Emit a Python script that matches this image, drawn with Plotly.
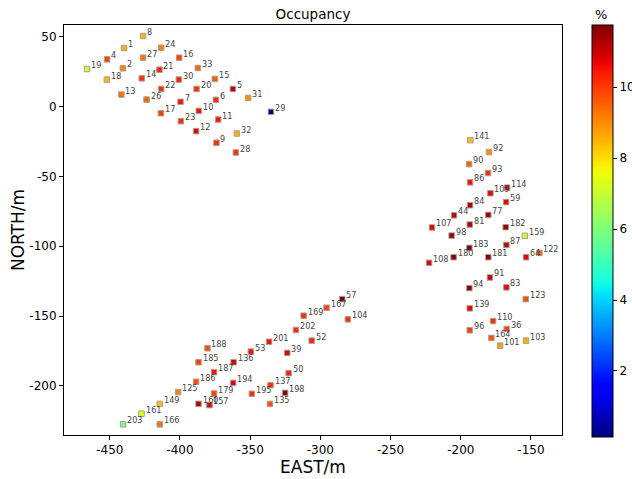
import numpy as np
import plotly.graph_objects as go

# ---- data ----
node_ids = [
    8, 1, 24, 4, 27, 16, 19, 2, 21, 33, 18, 14, 30, 15, 22, 20, 5, 13, 26, 6, 31, 7, 10, 29, 17, 11, 23, 12, 32, 9, 28,
    141, 92, 90, 93, 86, 114, 109, 84, 59, 44, 77, 81, 182, 107, 98, 159, 183, 87, 180, 181, 64, 122, 108, 91, 94, 83,
    123, 139, 110, 96, 36, 164, 101, 103,
    188, 185, 187, 186, 125, 149, 161, 203, 166, 179, 160, 157, 194, 136, 53, 201, 39, 202, 52, 169, 167, 57, 104, 50,
    137, 195, 198, 135,
]
east = [
    -426.3, -439.8, -413.4, -451.9, -426.3, -400.6, -466.2, -440.7, -414.6, -387.3, -452.1, -427.2, -400.8, -375.2,
    -413.4, -388.2, -362.3, -441.7, -423.8, -374.4, -351.4, -399.6, -386.6, -335.2, -413.6, -372.8, -399.4, -388.5,
    -359.5, -374.0, -360.2,
    -193.2, -179.9, -194.1, -180.6, -193.4, -167.0, -178.9, -193.4, -167.7, -204.8, -180.4, -193.6, -168.0, -220.5,
    -206.5, -154.4, -193.9, -167.5, -205.1, -180.4, -153.5, -144.0, -222.6, -179.2, -193.9, -167.5, -153.7, -193.6,
    -177.0, -193.6, -167.3, -178.2, -172.0, -153.5,
    -380.4, -386.8, -375.7, -388.5, -401.3, -414.4, -427.4, -440.5, -414.4, -375.7, -386.8, -379.0, -362.1, -361.8,
    -349.5, -336.5, -323.6, -317.4, -306.2, -311.9, -295.6, -284.4, -280.4, -322.6, -335.5, -348.8, -325.1, -335.9,
]
north = [
    50.5, 41.9, 42.1, 33.8, 35.0, 35.0, 26.9, 27.4, 26.4, 27.6, 19.3, 20.2, 19.3, 19.8, 12.6, 12.6, 12.6, 8.6, 5.0,
    4.8, 6.2, 3.4, -3.1, -3.8, -4.8, -9.3, -10.5, -17.6, -19.3, -25.9, -32.9,
    -24.1, -32.6, -41.2, -47.6, -54.3, -58.1, -62.1, -70.7, -68.4, -77.9, -77.6, -84.5, -86.4, -86.6, -92.4, -92.6,
    -101.2, -99.1, -107.9, -107.9, -107.9, -104.8, -111.9, -122.4, -130.0, -129.5, -137.9, -144.5, -153.6, -160.2,
    -159.3, -165.7, -171.2, -167.6,
    -173.1, -183.1, -190.2, -197.1, -204.5, -212.9, -220.0, -227.6, -227.6, -205.5, -212.9, -213.8, -197.9, -183.1,
    -175.5, -168.4, -176.4, -160.0, -167.6, -149.8, -144.1, -137.9, -152.4, -190.9, -199.5, -205.7, -205.0, -212.9,
]
occupancy = [
    8.45, 8.55, 9.14, 9.92, 9.33, 9.92, 7.08, 9.14, 10.3, 9.43, 8.45, 10.11, 10.3, 9.52, 10.11, 10.11, 11.1, 9.33,
    9.52, 10.11, 8.94, 10.5, 10.5, 0.14, 9.92, 10.4, 10.11, 10.7, 8.55, 10.11, 10.11,
    8.35, 8.94, 9.52, 10.11, 10.5, 10.8, 10.7, 11.26, 10.7, 11.1, 11.4, 11.26, 11.4, 10.8, 11.6, 7.08, 11.75, 11.1,
    11.6, 11.6, 10.7, 9.52, 10.8, 11.1, 11.6, 10.7, 9.72, 10.7, 10.11, 9.92, 9.92, 9.72, 8.73, 8.55,
    9.72, 9.92, 10.5, 9.72, 9.14, 8.35, 7.37, 6.0, 9.33, 9.92, 11.26, 10.8, 10.8, 10.9, 10.5, 10.5, 10.8, 10.11,
    10.3, 10.11, 9.92, 11.75, 10.11, 10.3, 10.11, 10.11, 11.7, 9.72,
]
x_ticks = [-450, -400, -350, -300, -250, -200, -150]
y_ticks = [-200, -150, -100, -50, 0, 50]
cbar_ticks = [2, 4, 6, 8, 10]

# ---- matplotlib "jet" colour map ----
def jet_scale(n=64):
    t = np.linspace(0, 1, n)
    r = np.interp(t, [0, 0.35, 0.66, 0.89, 1], [0, 0, 1, 1, 0.5])
    g = np.interp(t, [0, 0.125, 0.375, 0.64, 0.91, 1], [0, 0, 1, 1, 0, 0])
    b = np.interp(t, [0, 0.11, 0.34, 0.65, 1], [0.5, 1, 1, 0, 0])
    return [[float(ti), f"rgb({int(round(ri*255))},{int(round(gi*255))},{int(round(bi*255))})"]
            for ti, ri, gi, bi in zip(t, r, g, b)]

W, H = 632, 479
ml, mr, mt, mb = 64, 70, 25, 44
pw = W - ml - mr
ph = H - mt - mb

font = "DejaVu Sans"
label_font = "DejaVu Sans Condensed, Liberation Sans Narrow, Liberation Sans"

fig = go.Figure(go.Scatter(
    x=east, y=north, mode="markers",
    marker=dict(
        symbol="square", size=5.5,
        color=occupancy, colorscale=jet_scale(), cmin=0.14, cmax=11.75,
        line=dict(color="#a0a0a0", width=1),
        colorbar=dict(
            thickness=21, len=412, lenmode="pixels",
            x=(592 - ml) / pw, xanchor="left", xpad=0,
            y=1, yanchor="top", ypad=0,
            outlinewidth=1, outlinecolor="black",
            ticks="outside", ticklen=4, tickcolor="black",
            tickvals=cbar_ticks, ticktext=[str(v) for v in cbar_ticks],
            tickfont=dict(family=font, size=12, color="black"),
        ),
    ),
    showlegend=False,
    cliponaxis=False,
))

for nid, xe, yn in zip(node_ids, east, north):
    fig.add_annotation(
        x=xe, y=yn, text=str(nid), showarrow=False,
        xanchor="left", yanchor="middle", xshift=3, yshift=4,
        borderpad=0,
        font=dict(family=label_font, size=9, color="#444444"),
    )

# colour bar title
fig.add_annotation(
    x=(601 - ml) / pw, y=1 + 10 / ph, xref="paper", yref="paper",
    text="%", showarrow=False, xanchor="center", yanchor="middle",
    font=dict(family=font, size=13, color="black"),
)

axis_common = dict(
    showgrid=False, zeroline=False, showline=True, linecolor="black", linewidth=1,
    mirror=True, ticks="outside", ticklen=4, tickcolor="black",
    tickfont=dict(family=font, size=12, color="black"),
)

fig.update_layout(
    width=W, height=H,
    margin=dict(l=ml, r=mr, t=mt, b=mb, autoexpand=False),
    paper_bgcolor="white", plot_bgcolor="white",
    title=dict(text="Occupancy", x=0.5, xref="paper", y=1 - 14 / H, yref="container",
               xanchor="center", yanchor="middle",
               font=dict(family=font, size=13.5, color="black")),
    xaxis=dict(range=[-482.6, -127.9], tickvals=x_ticks, ticktext=[str(v) for v in x_ticks],
               title=dict(text="EAST/m", font=dict(family=font, size=17, color="black"), standoff=4),
               **axis_common),
    yaxis=dict(range=[-235.2, 58.4], tickvals=y_ticks, ticktext=[str(v) for v in y_ticks],
               title=dict(text="NORTH/m", font=dict(family=font, size=17, color="black"), standoff=0),
               **axis_common),
)

fig.write_html("out.html")
